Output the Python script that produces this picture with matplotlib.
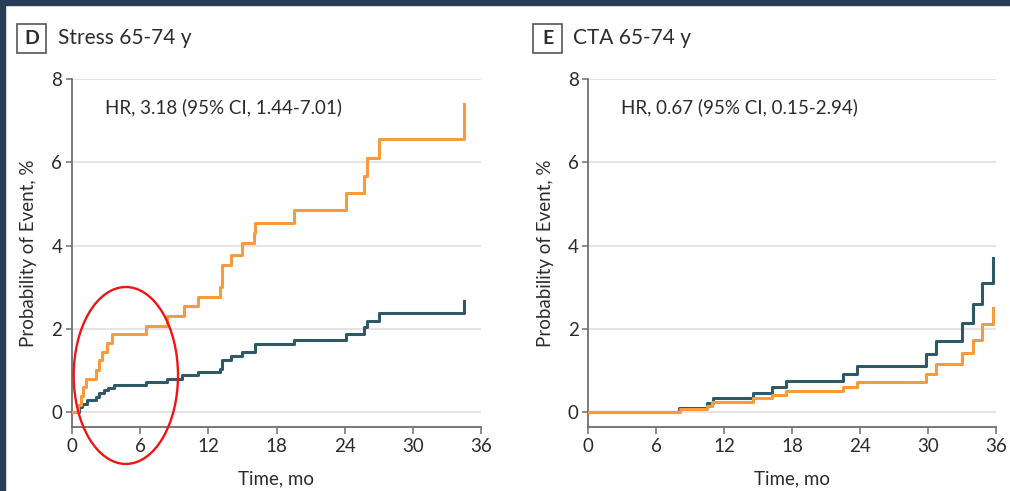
#!/usr/bin/env python3
# -*- coding: utf-8 -*-

import matplotlib
matplotlib.use("Agg")
import matplotlib.pyplot as plt
from matplotlib.patches import Rectangle, Ellipse

plt.rcParams['font.family'] = ['Lato', 'DejaVu Sans']

# Kaplan-Meier style step data (time in months, probability in %)
stress_orange_t = [0, 0.5, 0.75, 0.95, 1.2, 2.1, 2.35, 2.6, 3.1, 3.5, 6.5, 8.4, 9.9, 11.1,
                   13.0, 13.2, 14.0, 15.0, 16.0, 16.15, 19.5, 24.1, 25.7, 26.0, 27.0, 34.5, 34.5]
stress_orange_p = [0, 0.16, 0.38, 0.6, 0.8, 1.02, 1.24, 1.44, 1.66, 1.87, 2.08, 2.31, 2.54, 2.77,
                   3.0, 3.53, 3.78, 4.05, 4.29, 4.55, 4.86, 5.26, 5.67, 6.1, 6.57, 6.57, 7.41]

stress_teal_t = [0, 0.6, 0.9, 1.3, 2.1, 2.4, 2.8, 3.2, 3.7, 6.5, 8.4, 9.7, 11.1, 13.0, 13.2,
                 14.0, 15.0, 16.1, 19.5, 24.1, 25.7, 26.0, 27.0, 34.5, 34.5]
stress_teal_p = [0, 0.12, 0.2, 0.28, 0.36, 0.46, 0.52, 0.58, 0.66, 0.72, 0.80, 0.88, 0.96, 1.04, 1.24,
                 1.34, 1.44, 1.64, 1.74, 1.88, 2.04, 2.2, 2.38, 2.38, 2.68]

cta_teal_t = [0, 8.05, 10.5, 11.0, 14.5, 16.25, 17.5, 22.5, 23.7, 29.8, 30.7, 33.0, 34.0, 34.8, 35.7]
cta_teal_p = [0, 0.11, 0.22, 0.34, 0.47, 0.6, 0.74, 0.91, 1.1, 1.4, 1.71, 2.13, 2.6, 3.11, 3.7]

cta_orange_t = [0, 8.1, 10.5, 10.9, 14.5, 16.25, 17.5, 22.5, 23.7, 29.8, 30.7, 33.0, 34.0, 34.8, 35.7]
cta_orange_p = [0, 0.07, 0.15, 0.25, 0.34, 0.41, 0.5, 0.6, 0.72, 0.92, 1.15, 1.42, 1.74, 2.11, 2.5]

x_ticks = [0, 6, 12, 18, 24, 30, 36]
y_ticks = [0, 2, 4, 6, 8]

orange = '#F99A3C'
teal = '#2F5966'
navy = '#283D57'
txt = '#2b2b2b'

fig = plt.figure(figsize=(10.10, 4.91), dpi=100)
W, H = 1010.0, 491.0

# dark frame at top and left
fig.patches.append(Rectangle((0, 1 - 5 / H), 1, 5 / H, transform=fig.transFigure, color=navy, zorder=0))
fig.patches.append(Rectangle((0, 0), 4.5 / W, 1, transform=fig.transFigure, color=navy, zorder=0))


def setup_axes(ax, hr_text):
    ax.set_xlim(0, 36)
    ax.set_ylim(-0.35, 8)
    ax.set_xticks(x_ticks)
    ax.set_yticks(y_ticks)
    for s in ['top', 'right']:
        ax.spines[s].set_visible(False)
    for s in ['left', 'bottom']:
        ax.spines[s].set_color('#6e6e6e')
        ax.spines[s].set_linewidth(1.3)
    ax.spines['left'].set_bounds(-0.35, 8)
    ax.tick_params(axis='both', colors='#6e6e6e', labelcolor=txt, labelsize=13.5, width=1.1)
    ax.tick_params(axis='y', length=4, pad=3)
    ax.tick_params(axis='x', length=5, pad=3)
    for y in y_ticks:
        ax.axhline(y, color='#e4e4e4', lw=1.5, zorder=0)
    ax.set_xlabel('Time, mo', fontsize=13.5, color=txt)
    ax.set_ylabel('Probability of Event, %', fontsize=13.5, color=txt)
    ax.xaxis.set_label_coords(0.5, -0.125)
    ax.yaxis.set_label_coords(-0.085, 0.5)
    ax.text(2.9, 7.33, hr_text, fontsize=13.5, color=txt, va='center', ha='left')


ax1 = fig.add_axes([72 / W, 64.3 / H, 409 / W, 347.7 / H])
ax2 = fig.add_axes([588.3 / W, 64.3 / H, 407.7 / W, 347.7 / H])

setup_axes(ax1, 'HR, 3.18 (95% CI, 1.44-7.01)')
setup_axes(ax2, 'HR, 0.67 (95% CI, 0.15-2.94)')

ax1.step(stress_teal_t, stress_teal_p, where='post', color=teal, lw=2.2, zorder=3)
ax1.step(stress_orange_t, stress_orange_p, where='post', color=orange, lw=2.2, zorder=4)
ax2.step(cta_teal_t, cta_teal_p, where='post', color=teal, lw=2.2, zorder=3)
ax2.step(cta_orange_t, cta_orange_p, where='post', color=orange, lw=2.2, zorder=4)

# red ellipse highlighting the early part of the stress curves
ax1.add_patch(Ellipse((4.74, 0.88), 9.18, 4.25, fill=False, ec='#EE1515', lw=1.7,
                      clip_on=False, zorder=5))

# panel letters and titles
for bx, letter, tx, title in [(17, 'D', 58, 'Stress 65-74 y'), (533, 'E', 572.7, 'CTA 65-74 y')]:
    fig.patches.append(Rectangle((bx / W, (H - 53) / H), 29 / W, 29 / H, transform=fig.transFigure,
                                 fill=False, ec='#555555', lw=1.2))
    fig.text((bx + 14.5) / W, (H - 38.5) / H, letter, fontsize=14, fontweight='bold', color=txt,
             ha='center', va='center')
    fig.text(tx / W, (H - 38.5) / H, title, fontsize=15, color=txt, ha='left', va='center')

fig.savefig('out.png', dpi=100, facecolor='white')
